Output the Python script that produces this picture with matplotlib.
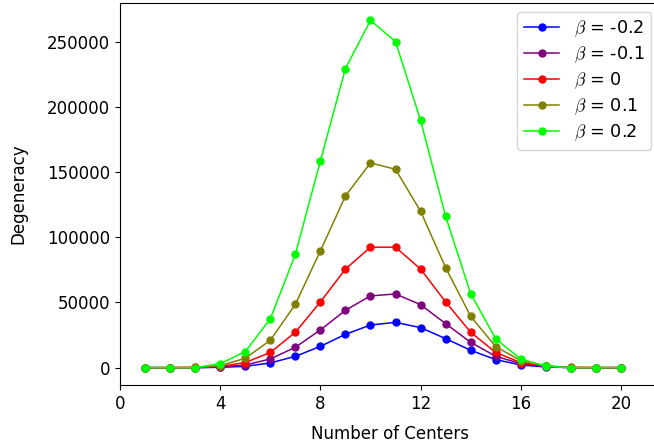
import numpy as np
import matplotlib
matplotlib.use("Agg")
from matplotlib import pyplot as plt

centers = list(range(1, 21))

# degeneracy for each beta
deg_m02 = [0, 0, 0, 250, 1000, 3600, 8650, 16300, 25550, 32700,
           34700, 30700, 22250, 13300, 6150, 2050, 500, 0, 0, 0]
deg_m01 = [0, 0, 0, 500, 2000, 6650, 15600, 28900, 43950, 55000,
           56500, 48300, 33750, 19400, 8700, 3070, 1000, 0, 0, 0]
deg_0 = [1, 19, 171, 969, 3876, 11628, 27132, 50388, 75582, 92378,
         92378, 75582, 50388, 27132, 11628, 3876, 969, 171, 19, 1]
deg_p01 = [0, 0, 0, 1530, 7150, 20950, 48550, 89500, 131650, 157000,
           152100, 119900, 76700, 39350, 16100, 5370, 1530, 0, 0, 0]
deg_p02 = [0, 0, 0, 3070, 12270, 37340, 86900, 158500, 229300, 266300,
           250000, 189650, 116000, 56750, 22000, 6650, 1000, 0, 0, 0]

series = [deg_m02, deg_m01, deg_0, deg_p01, deg_p02]
labels = [r"$\beta$ = -0.2", r"$\beta$ = -0.1", r"$\beta$ = 0",
          r"$\beta$ = 0.1", r"$\beta$ = 0.2"]
colors = ["blue", "purple", "red", "olive", "lime"]

plt.rcParams["font.size"] = 12
plt.rcParams["mathtext.fontset"] = "cm"

fig = plt.figure(figsize=(6.54, 4.47), dpi=100)
ax = fig.add_axes([0.1835, 0.1387, 0.8257, 0.8546])

for vals, lab, col in zip(series, labels, colors):
    ax.plot(centers, vals, color=col, marker="o", markersize=5,
            linewidth=1.1, label=lab)

ax.set_xlim(0, 21.56)
ax.set_xticks([0, 4, 8, 12, 16, 20])
ax.spines["right"].set_visible(False)
ax.set_xlabel("Number of Centers", labelpad=9)
ax.set_ylabel("Degeneracy", labelpad=14)
ax.legend(loc="upper right", fontsize=12.7, labelspacing=0.3)

fig.savefig("out.png", dpi=100)
